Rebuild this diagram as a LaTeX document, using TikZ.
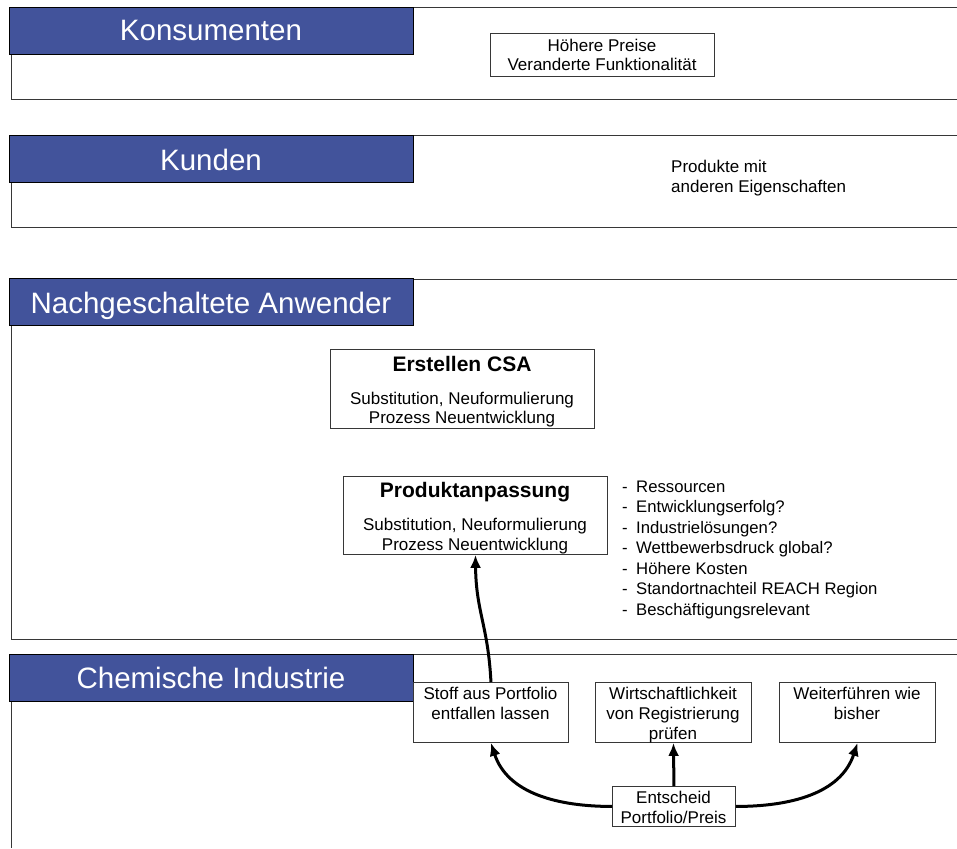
\documentclass[tikz,border=0pt]{standalone}
\usepackage{fontspec}
\setmainfont{Liberation Sans}
\usetikzlibrary{arrows.meta}
\definecolor{hdrblue}{RGB}{66,83,155}
\definecolor{linegray}{RGB}{55,55,55}
\begin{document}
\begin{tikzpicture}[x=1pt,y=-1pt,
  lane/.style={draw=linegray, line width=0.9pt},
  hdr/.style={draw=black, line width=0.8pt, fill=hdrblue, minimum width=404pt, minimum height=47pt, anchor=north west, inner sep=0pt},
  hdrtext/.style={text=white, font=\fontsize{29.5}{33}\selectfont, anchor=base, inner sep=0pt},
  boxx/.style={draw=linegray, line width=0.9pt, fill=white, anchor=north west, inner sep=0pt},
  txt/.style={font=\fontsize{17}{20}\selectfont, anchor=base, inner sep=0pt},
  txtl/.style={font=\fontsize{17}{20}\selectfont, anchor=base west, inner sep=0pt},
  listl/.style={font=\fontsize{16.7}{20}\selectfont, anchor=base west, inner sep=0pt},
  ttl/.style={font=\fontsize{21}{24}\selectfont\bfseries, anchor=base, inner sep=0pt},
  arr/.style={line width=3pt, -{Latex[length=13pt,width=11pt]}}
]
\useasboundingbox (0,0) rectangle (957,848);
\fill[white] (0,0) rectangle (957,848);

% lanes
\draw[lane] (957,7) -- (11,7) -- (11,99) -- (957,99);
\draw[lane] (957,135) -- (11,135) -- (11,227) -- (957,227);
\draw[lane] (957,279) -- (11,279) -- (11,639) -- (957,639);
\draw[lane] (957,654) -- (11,654) -- (11,848);

% headers
\node[hdr] (hkons) at (9,7) {};
\node[hdrtext] (tkons) at (211,41) {Konsumenten};
\node[hdr] (hkund) at (9,135) {};
\node[hdrtext] (tkund) at (211,170) {Kunden};
\node[hdr] (hnach) at (9,278) {};
\node[hdrtext] (tnach) at (211,313) {Nachgeschaltete Anwender};
\node[hdr] (hchem) at (9,654) {};
\node[hdrtext] (tchem) at (211,688) {Chemische Industrie};

% Konsumenten
\node[boxx, minimum width=224pt, minimum height=43pt] (preis) at (490,33) {};
\node[txt] (preis1) at (602,52) {Höhere Preise};
\node[txt] (preis2) at (602,71) {Veranderte Funktionalität};

% Kunden
\node[txtl] (prod1) at (671,172) {Produkte mit};
\node[txtl] (prod2) at (671,192) {anderen Eigenschaften};

% Nachgeschaltete Anwender
\node[boxx, minimum width=264pt, minimum height=79pt] (csa) at (330,349) {};
\node[ttl] (csat) at (462,371) {Erstellen CSA};
\node[txt] (csa1) at (462,404) {Substitution, Neuformulierung};
\node[txt] (csa2) at (462,423) {Prozess Neuentwicklung};

\node[boxx, minimum width=264pt, minimum height=78pt] (pa) at (343,476) {};
\node[ttl] (pat) at (475,497) {Produktanpassung};
\node[txt] (pa1) at (475,530) {Substitution, Neuformulierung};
\node[txt] (pa2) at (475,550) {Prozess Neuentwicklung};

\foreach \t [count=\i from 0] in {Ressourcen, Entwicklungserfolg?, Industrielösungen?, Wettbewerbsdruck global?, Höhere Kosten, Standortnachteil REACH Region, Beschäftigungsrelevant} {
  \node[listl] (dash\i) at (622,492+20.5*\i) {-};
  \node[listl] (item\i) at (636,492+20.5*\i) {\t};
}

% Chemische Industrie
\node[boxx, minimum width=155pt, minimum height=60pt] (b1) at (413,682) {};
\node[txt] (b1a) at (490.5,699.5) {Stoff aus Portfolio};
\node[txt] (b1b) at (490.5,719.5) {entfallen lassen};

\node[boxx, minimum width=156pt, minimum height=60pt] (b2) at (595,682) {};
\node[txt] (b2a) at (673,699.5) {Wirtschaftlichkeit};
\node[txt] (b2b) at (673,719.5) {von Registrierung};
\node[txt] (b2c) at (673,739.5) {prüfen};

\node[boxx, minimum width=156pt, minimum height=60pt] (b3) at (779,682) {};
\node[txt] (b3a) at (857,699.5) {Weiterführen wie};
\node[txt] (b3b) at (857,719.5) {bisher};

\node[boxx, minimum width=123pt, minimum height=40pt] (ent) at (612,786) {};
\node[txt] (enta) at (673.5,803) {Entscheid};
\node[txt] (entb) at (673.5,823) {Portfolio/Preis};

% connectors
\draw[arr] (b1.north) .. controls (488,625) and (476,612) .. (pa.south);
\draw[arr] (ent.west) to[out=180,in=-72] (b1.south);
\draw[arr] (ent.north) -- (b2.south);
\draw[arr] (ent.east) to[out=0,in=-108] (b3.south);
\end{tikzpicture}
\end{document}
